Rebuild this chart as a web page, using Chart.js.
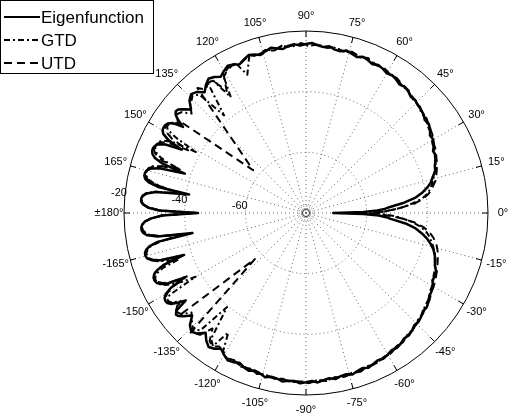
<!DOCTYPE html>
<html>
<head>
<meta charset="utf-8">
<title>Eigenfunction / GTD / UTD pattern</title>
<script src="https://cdn.jsdelivr.net/npm/chart.js@4.4.1/dist/chart.umd.min.js"></script>
<style>
  html, body { margin: 0; padding: 0; background: #fff; }
  canvas { display: block; }
</style>
</head>
<body>
<canvas id="chart" width="510" height="418"></canvas>
<script>
// radial axis in dB
const radialMin = -80;
const radialMax = -20;
const radialTicks = [-60, -40, -20];
const angleTicks = [0, 15, 30, 45, 60, 75, 90, 105, 120, 135, 150, 165, 180,
    -165, -150, -135, -120, -105, -90, -75, -60, -45, -30, -15];

// [angle in degrees, level in dB]
const eigenfunction = [
    [-180, -44.4], [-179, -32.5], [-178, -29], [-177, -26.9], [-176, -25.9], [-175, -25.5], [-174, -25.5],
    [-173, -25.9], [-172, -27.2], [-171, -30.5], [-170, -42], [-169, -30.5], [-168, -27.3], [-167, -25.9],
    [-166, -25.3], [-165, -25.2], [-164, -25.6], [-163, -26.8], [-162, -29.5], [-161, -37.5], [-160, -30.5],
    [-159, -27.5], [-158, -26], [-157, -25.4], [-156, -25.3], [-155, -25.6], [-154, -26.6], [-153, -29],
    [-152, -34.5], [-151, -29], [-150, -26.6], [-149, -25.6], [-148, -25.3], [-147, -25.5], [-146, -26.4],
    [-145, -28.5], [-144, -31], [-143, -26.5], [-142, -25.6], [-141, -26], [-140, -27], [-138, -29.5],
    [-136, -26.8], [-134, -25.6], [-132, -26.5], [-130, -28.5], [-128, -26.6], [-126, -25.4], [-124, -26],
    [-122, -27.2], [-120, -26], [-118, -25], [-116, -25.3], [-114, -26], [-112, -25.2], [-110, -24.7],
    [-108, -25.4], [-106, -25], [-104, -24.2], [-102, -24.8], [-100, -24.6], [-98, -23.9], [-96, -24.4],
    [-94, -24.5], [-92, -23.8], [-90, -24.2], [-88, -24.6], [-86, -24], [-84, -24.6], [-82, -25],
    [-80, -24.4], [-78, -25], [-76, -25.2], [-74, -24.6], [-72, -25.2], [-70, -25.6], [-68, -25],
    [-66, -25.5], [-64, -26], [-62, -25.6], [-60, -26.1], [-58, -26.7], [-56, -26.4], [-54, -26.8],
    [-52, -27.5], [-50, -27.3], [-48, -27.8], [-46, -28.6], [-44, -28.4], [-42, -28.9], [-40, -29.7],
    [-38, -29.5], [-36, -30.1], [-34, -31], [-32, -31.2], [-30, -31.7], [-28, -32.8], [-26, -32.6],
    [-24, -33.1], [-22, -34.2], [-20, -34.6], [-18, -35.4], [-16, -36.3], [-14, -37.6], [-12, -39.2],
    [-10, -41.2], [-8, -43.5], [-6, -47], [-4, -52], [-3, -53.5], [-2, -56], [-1, -61],
    [0, -71], [1, -61], [2, -56.5], [3, -54], [4, -52.5], [6, -47.5], [8, -43.5], [10, -41], [12, -39],
    [14, -37.5], [16, -36.5], [18, -35.2], [20, -34.8], [22, -34], [24, -33.2], [26, -33.4], [28, -32.3],
    [30, -31.6], [32, -31.8], [34, -30.6], [36, -30], [38, -30.3], [40, -29.4], [42, -29], [44, -28.8],
    [46, -28.2], [48, -28.4], [50, -27.6], [52, -27.2], [54, -27.6], [56, -26.9], [58, -26.4], [60, -26.8],
    [62, -26.1], [64, -25.7], [66, -26.3], [68, -25.6], [70, -25.2], [72, -25.9], [74, -25.4], [76, -24.8],
    [78, -25.5], [80, -25.3], [82, -24.5], [84, -25], [86, -24.6], [88, -23.9], [90, -24.3], [92, -24.8],
    [94, -24.2], [96, -24.6], [98, -25.4], [100, -24.9], [102, -24.3], [104, -25], [106, -25.8], [108, -25.1],
    [110, -24.6], [112, -25.4], [114, -26.3], [116, -25.5], [118, -25], [120, -25.9], [122, -27], [124, -25.9],
    [126, -25.3], [128, -26.4], [130, -28], [132, -26.3], [134, -25.5], [136, -26.6], [138, -29], [140, -26.8],
    [141, -25.8], [142, -25.5], [143, -26.2], [144, -28], [145, -30.5], [146, -27], [147, -25.8], [148, -25.3],
    [149, -25.2], [150, -25.4], [151, -26.2], [152, -28.5], [153, -34], [154, -28.5], [155, -26.3], [156, -25.5],
    [157, -25.2], [158, -25.3], [159, -25.8], [160, -27], [161, -30], [162, -38], [163, -29.5], [164, -26.8],
    [165, -25.7], [166, -25.3], [167, -25.3], [168, -25.8], [169, -27.2], [170, -30.5], [171, -41], [172, -30],
    [173, -27], [174, -25.8], [175, -25.5], [176, -25.5], [177, -26.2], [178, -27.8], [179, -31.5]
];

const gtd = [
    [-179, -32.5], [-178, -28.8], [-177, -27], [-176, -26.1], [-175, -25.8], [-174, -25.9], [-173, -26.6],
    [-172, -28], [-171, -31], [-170, -39], [-169, -31.5], [-168, -27.8], [-167, -26.4], [-166, -25.8],
    [-165, -25.7], [-164, -26], [-163, -26.8], [-162, -28.5], [-161, -31.5], [-160, -35.5], [-159, -29.5],
    [-158, -27], [-157, -26], [-156, -25.7], [-155, -25.9], [-154, -26.5], [-153, -27.8], [-152, -30],
    [-151, -33], [-150, -38], [-149, -27.5], [-148, -26.2], [-147, -26.2], [-146, -27.3], [-145, -29.5],
    [-143, -26.2], [-141, -27], [-139, -30], [-137, -28.5], [-134, -26.4], [-132, -28], [-130, -39.5],
    [-127, -28], [-125, -26.5], [-123, -33], [-121, -27], [-119, -25.5], [-116, -26], [-113, -25],
    [-110, -25.5], [-107, -24.6], [-104, -25.1], [-101, -24.3], [-98, -24.8], [-95, -24], [-92, -24.6],
    [-89, -24], [-86, -24.8], [-83, -24.3], [-80, -25], [-77, -24.5], [-74, -25.2], [-71, -24.8],
    [-68, -25.6], [-65, -25.3], [-62, -26.1], [-59, -26], [-56, -26.9], [-53, -26.9], [-50, -27.8],
    [-47, -27.9], [-44, -28.9], [-41, -29.2], [-38, -30.2], [-35, -30.6], [-32, -31.7], [-29, -32.1],
    [-26, -33.2], [-23, -33.7], [-20, -34.9], [-17, -35.6], [-14, -37], [-11, -38.5], [-9, -39.8],
    [-7, -41.8], [-5, -44.5], [-3, -48.5], [-2, -51], [-1, -54],
    [0, -57.5], [1, -54.5], [2, -51.5], [3, -49], [5, -45], [7, -41.5], [9, -39.5], [11, -38.3], [14, -36.8],
    [17, -35.8], [20, -34.4], [23, -33.8], [26, -32.9], [29, -32.4], [32, -31.2], [35, -30.8], [38, -29.8],
    [41, -29.6], [44, -28.6], [47, -28.5], [50, -27.5], [53, -27.4], [56, -26.6], [59, -26.7], [62, -25.8],
    [65, -26.1], [68, -25.2], [71, -25.7], [74, -24.9], [77, -25.4], [80, -24.7], [83, -25.1], [86, -24.3],
    [89, -24.9], [92, -24.2], [95, -25], [98, -24.5], [101, -25.4], [104, -24.8], [107, -25.6], [110, -25.2],
    [113, -30.5], [115, -25.8], [118, -25.6], [121, -27], [123, -34.5], [125, -26.8], [127, -26], [130, -38],
    [132, -27.5], [134, -26.2], [137, -27.8], [139, -30], [141, -27.2], [143, -26.2], [145, -29], [146, -27.3],
    [147, -26.2], [148, -26], [149, -26.8], [150, -31], [151, -38.5], [152, -30], [153, -27.5], [154, -26.3],
    [155, -25.8], [156, -25.7], [157, -26], [158, -26.8], [159, -28.5], [160, -31.5], [161, -36], [162, -30],
    [163, -27.3], [164, -26.1], [165, -25.7], [166, -25.6], [167, -26], [168, -27], [169, -29], [170, -33],
    [171, -38.5], [172, -29.5], [173, -27], [174, -26], [175, -25.7], [176, -25.8], [177, -26.5], [178, -28.2],
    [179, -32], [180, -43.5]
];

const utd = [
    [-179, -32.8], [-178, -28.8], [-177, -26.9], [-176, -25.9], [-175, -25.6], [-174, -25.8], [-173, -26.6],
    [-172, -28], [-171, -31.5], [-170, -40], [-169, -30], [-168, -27.2], [-167, -25.9], [-166, -25.4],
    [-165, -25.4], [-164, -26], [-163, -27.3], [-162, -30], [-161, -37], [-160, -30], [-159, -27.2],
    [-158, -26], [-157, -25.6], [-156, -25.6], [-155, -26.2], [-154, -27.4], [-153, -29.5], [-152, -35.5],
    [-151, -30], [-150, -27.2], [-149, -26], [-148, -25.7], [-147, -26], [-146, -27], [-145, -28.5],
    [-143, -26.4], [-141, -27], [-138, -57.3], [-134, -25.2], [-131, -26.8], [-129, -31], [-127, -27.2],
    [-125, -26.3], [-123, -27.5], [-121, -26.6], [-119, -25.4], [-116, -25.9], [-113, -25.1], [-110, -25.4],
    [-107, -24.6], [-104, -25], [-101, -24.4], [-98, -24.7], [-95, -24.1], [-92, -24.4], [-89, -23.9],
    [-86, -24.7], [-83, -24.2], [-80, -24.9], [-77, -24.4], [-74, -25], [-71, -24.7], [-68, -25.5],
    [-65, -25.2], [-62, -26], [-59, -25.9], [-56, -26.7], [-53, -26.8], [-50, -27.6], [-47, -27.7],
    [-44, -28.7], [-41, -29], [-38, -29.9], [-35, -30.2], [-32, -31.2], [-29, -31.6], [-26, -32.3],
    [-23, -33], [-20, -33.8], [-17, -34.5], [-14, -35.6], [-11, -37.2], [-9, -38.7], [-7, -40.8],
    [-5, -44], [-3, -49], [-2, -52], [-1, -55.5],
    [0, -59], [1, -55], [2, -51.8], [3, -49], [5, -44], [7, -41], [9, -39], [11, -37.7], [14, -36],
    [17, -35], [20, -34], [23, -33.3], [26, -32.4], [29, -32], [32, -30.9], [35, -30.4], [38, -29.5],
    [41, -29.3], [44, -28.3], [47, -28.2], [50, -27.3], [53, -27.1], [56, -26.4], [59, -26.5], [62, -25.6],
    [65, -25.9], [68, -25], [71, -25.5], [74, -24.7], [77, -25.3], [80, -24.5], [83, -25], [86, -24.4],
    [89, -24.6], [92, -23.9], [95, -24.7], [98, -24.2], [101, -25.2], [104, -24.6], [107, -25.5], [110, -24.9],
    [113, -26], [116, -25.4], [119, -26.3], [121, -27.5], [123, -32], [125, -27], [127, -26.2], [129, -27.6],
    [131, -25.4], [141, -57.6], [144, -27.6], [145, -28.5], [146, -26.8], [147, -25.9], [148, -25.6],
    [149, -25.9], [150, -27], [151, -29.5], [152, -36], [153, -29], [154, -26.8], [155, -25.9], [156, -25.6],
    [157, -25.6], [158, -26.1], [159, -27.3], [160, -29.5], [161, -36.5], [162, -30.5], [163, -27.5], [164, -26.2],
    [165, -25.7], [166, -25.5], [167, -25.7], [168, -26.6], [169, -28.5], [170, -32.5], [171, -39], [172, -29.5],
    [173, -27], [174, -26], [175, -25.6], [176, -25.7], [177, -26.4], [178, -28], [179, -32], [180, -44]
];

// the radar scale runs clockwise from its start angle, so label i sits at -i degrees
const angleIndex = a => ((-a % 360) + 360) % 360;
const labels = Array.from({ length: 360 }, (_, i) => String(i === 0 ? 0 : (i <= 180 ? -i : 360 - i)));

function toSeries(pairs) {
    const out = new Array(360).fill(null);
    pairs.forEach(([a, v]) => { out[angleIndex(a)] = v; });
    return out;
}

const FONT = '"Liberation Sans", Arial, Helvetica, sans-serif';

const polarDecor = {
    id: 'polarDecor',
    beforeDatasetsDraw(chart) {
        const r = chart.scales.r;
        const ctx = chart.ctx;
        ctx.save();
        // little rings at the origin
        ctx.lineWidth = 1;
        ctx.strokeStyle = '#666';
        ctx.setLineDash([1, 2]);
        ctx.beginPath();
        ctx.arc(r.xCenter, r.yCenter, 7, 0, Math.PI * 2);
        ctx.stroke();
        ctx.setLineDash([]);
        ctx.strokeStyle = '#333';
        ctx.beginPath();
        ctx.arc(r.xCenter, r.yCenter, 3.5, 0, Math.PI * 2);
        ctx.stroke();
        // short tick marks on the outer ring
        ctx.strokeStyle = '#000';
        angleTicks.forEach(a => {
            const i = angleIndex(a);
            const p1 = r.getPointPosition(i, r.drawingArea);
            const p2 = r.getPointPosition(i, r.drawingArea - 6);
            ctx.beginPath();
            ctx.moveTo(p1.x, p1.y);
            ctx.lineTo(p2.x, p2.y);
            ctx.stroke();
        });
        ctx.restore();
    },
    afterDraw(chart) {
        const r = chart.scales.r;
        const ctx = chart.ctx;
        ctx.save();
        ctx.fillStyle = '#000';
        ctx.font = '11px ' + FONT;
        ctx.textAlign = 'center';
        ctx.textBaseline = 'middle';
        angleTicks.forEach(a => {
            const p = r.getPointPosition(angleIndex(a), r.drawingArea + 15);
            const txt = a === 180 ? '\u00b1180\u00b0' : a + '\u00b0';
            ctx.fillText(txt, p.x, p.y);
        });
        radialTicks.forEach(v => {
            const p = r.getPointPosition(angleIndex(174), r.getDistanceFromCenterForValue(v) + 6);
            ctx.fillText(String(v), p.x, p.y);
        });

        // legend box, top left
        ctx.fillStyle = '#fff';
        ctx.fillRect(0, 0, 154, 74);
        ctx.strokeStyle = '#000';
        ctx.lineWidth = 1;
        ctx.strokeRect(0.5, 0.5, 153, 73);
        ctx.font = '17px ' + FONT;
        ctx.textAlign = 'left';
        chart.data.datasets.forEach((ds, k) => {
            const y = 17 + k * 23;
            ctx.lineWidth = 2;
            ctx.setLineDash(ds.borderDash || []);
            ctx.beginPath();
            ctx.moveTo(4, y);
            ctx.lineTo(40, y);
            ctx.stroke();
            ctx.setLineDash([]);
            ctx.fillStyle = '#000';
            ctx.fillText(ds.label, 41, y + 1);
        });
        ctx.restore();
    }
};

new Chart(document.getElementById('chart'), {
    type: 'radar',
    data: {
        labels: labels,
        datasets: [
            { label: 'Eigenfunction', data: toSeries(eigenfunction), borderColor: '#000', borderWidth: 2.5, borderDash: [], spanGaps: true, fill: false },
            { label: 'GTD', data: toSeries(gtd), borderColor: '#000', borderWidth: 2, borderDash: [6, 3, 2, 3], spanGaps: true, fill: false },
            { label: 'UTD', data: toSeries(utd), borderColor: '#000', borderWidth: 2, borderDash: [8, 5], spanGaps: true, fill: false }
        ]
    },
    options: {
        responsive: false,
        animation: false,
        events: [],
        layout: { padding: { left: 124, right: 21, top: 31, bottom: 22 } },
        elements: {
            point: { radius: 0, hoverRadius: 0 },
            line: { tension: 0, borderJoinStyle: 'round' }
        },
        scales: {
            r: {
                min: radialMin,
                max: radialMax,
                startAngle: 90,
                ticks: { display: false, stepSize: 20 },
                pointLabels: { display: false },
                grid: {
                    circular: true,
                    lineWidth: 1,
                    color: c => c.tick.value === radialMax ? '#000' : (c.tick.value === radialMin ? 'rgba(0,0,0,0)' : '#666')
                },
                border: { dash: c => c.tick.value === radialMax ? [] : [1, 3] },
                angleLines: {
                    color: '#666',
                    lineWidth: c => c.index % 15 === 0 ? 1 : 0,
                    borderDash: [1, 3]
                }
            }
        },
        plugins: {
            legend: { display: false },
            tooltip: { enabled: false }
        }
    },
    plugins: [polarDecor]
});
</script>
</body>
</html>
